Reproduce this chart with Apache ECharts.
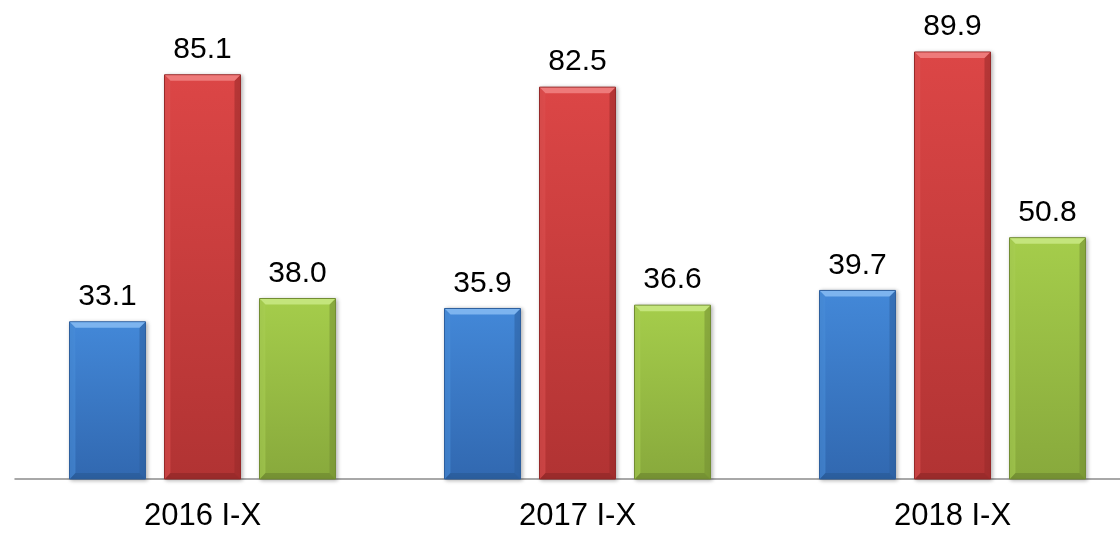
<!DOCTYPE html>
<html><head><meta charset="utf-8">
<script src="https://cdn.jsdelivr.net/npm/echarts@6/dist/echarts.min.js"></script>
<style>html,body{margin:0;padding:0;background:#fff;overflow:hidden;width:1120px;height:534px}#c{width:1160px;height:534px}</style>
</head><body><div id="c"></div>
<script>
const categories = ['2016 I-X', '2017 I-X', '2018 I-X'];
const seriesBlue = [33.1, 35.9, 39.7];
const seriesRed = [85.1, 82.5, 89.9];
const seriesGreen = [38.0, 36.6, 50.8];

const palettes = [
  {top: '#7db4ef', bodyT: '#4388d8', bodyB: '#3168b0', left: '#4b8fdc', right: '#2c5f9f', bottom: '#285892', edge: '#2d5f9e'},
  {top: '#ee7a7a', bodyT: '#dc4646', bodyB: '#b13333', left: '#e05252', right: '#982a2a', bottom: '#8c2626', edge: '#962929'},
  {top: '#c4e57c', bodyT: '#a5cd4b', bodyB: '#88a93c', left: '#acd255', right: '#748f33', bottom: '#6b842f', edge: '#728d33'}
];

function makeSeries(values, idx) {
  const pal = palettes[idx];
  return {
    type: 'custom',
    data: values.map((v, i) => [i, v]),
    encode: {x: 0, y: 1},
    renderItem: function (params, api) {
      const cat = api.value(0), val = api.value(1);
      const base = api.coord([cat, 0]);
      const top = api.coord([cat, val]);
      const cw = api.size([1, 0])[0];
      const w = cw * 76 / 375;
      const off = (idx - 1) * cw * 95 / 375;
      const x = base[0] + off - w / 2;
      const y = top[1];
      const h = base[1] - top[1];
      const b = 6;
      return {
        type: 'group',
        children: [
          {type: 'rect', shape: {x: x, y: y, width: w, height: h},
            style: {fill: {type: 'linear', x: 0, y: 0, x2: 0, y2: 1,
              colorStops: [{offset: 0, color: pal.bodyT}, {offset: 1, color: pal.bodyB}]},
              stroke: pal.edge, lineWidth: 1,
              shadowColor: 'rgba(0,0,0,0.3)', shadowBlur: 4, shadowOffsetX: 1.5, shadowOffsetY: 1}},
          {type: 'polygon', shape: {points: [[x + 0.5, y + 0.5], [x + b, y + b], [x + b, y + h - b], [x + 0.5, y + h]]},
            style: {fill: pal.left, opacity: 0.55}},
          {type: 'polygon', shape: {points: [[x + w - 0.5, y + 0.5], [x + w - b, y + b], [x + w - b, y + h - b], [x + w - 0.5, y + h]]},
            style: {fill: pal.right, opacity: 0.55}},
          {type: 'polygon', shape: {points: [[x + 0.5, y + h], [x + b, y + h - b], [x + w - b, y + h - b], [x + w - 0.5, y + h]]},
            style: {fill: pal.bottom, opacity: 0.6}},
          {type: 'polygon', shape: {points: [[x + 0.5, y + 0.5], [x + w - 0.5, y + 0.5], [x + w - b, y + b], [x + b, y + b]]},
            style: {fill: pal.top}},
          {type: 'text', x: base[0] + off, y: y - 10,
            style: {text: val.toFixed(1), fill: '#000', font: '30px "Liberation Sans", Arial',
              align: 'center', verticalAlign: 'bottom'}}
        ]
      };
    }
  };
}

const chart = echarts.init(document.getElementById('c'));
chart.setOption({
  animation: false,
  grid: {left: 15, top: 4, right: 20, height: 475},
  xAxis: {type: 'category', data: categories,
    axisLine: {lineStyle: {color: '#8c8c8c', width: 1.5}},
    axisTick: {show: false},
    axisLabel: {color: '#000', fontFamily: 'Liberation Sans, Arial', fontSize: 31, margin: 22}},
  yAxis: {type: 'value', min: 0, max: 100, show: false, splitLine: {show: false}},
  series: [
    makeSeries(seriesBlue, 0),
    makeSeries(seriesRed, 1),
    makeSeries(seriesGreen, 2)
  ]
});
</script></body></html>
